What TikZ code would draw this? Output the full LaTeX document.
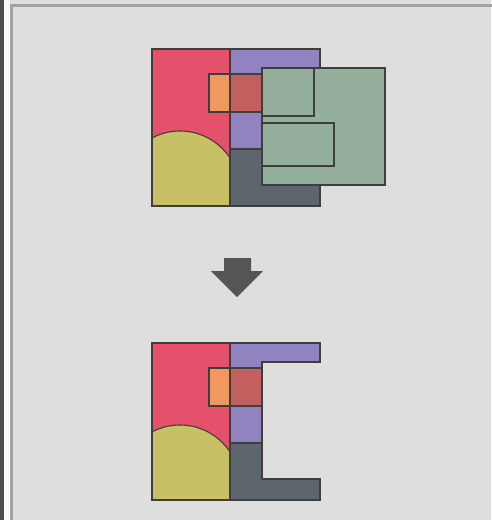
\documentclass[tikz,border=0pt]{standalone}
\definecolor{panelbg}{HTML}{DEDEDC}
\definecolor{framegray}{HTML}{A2A2A0}
\definecolor{stripegray}{HTML}{4E4E4E}
\definecolor{edgegray}{HTML}{3E3E3E}
\definecolor{redpart}{HTML}{E5506A}
\definecolor{purplepart}{HTML}{9183BF}
\definecolor{slatepart}{HTML}{5D656D}
\definecolor{yellowpart}{HTML}{C8C064}
\definecolor{greenpart}{HTML}{95AF9D}
\definecolor{orangepart}{HTML}{F19860}
\definecolor{overlappart}{HTML}{C1605F}
\definecolor{arrowgray}{HTML}{555555}
\begin{document}
\begin{tikzpicture}[x=1pt, y=-1pt,
    piece/.style={draw=edgegray, line width=1.1pt, line join=miter},
    cutbox/.style={draw=edgegray, line width=1.1pt, fill=greenpart}]
  \useasboundingbox (0,0) rectangle (491,520);
  % khung nen
  \fill[panelbg] (0,0) rectangle (491,520);
  \fill[stripegray] (0,0) rectangle (4,520);
  \fill[white!85!panelbg] (4,0) rectangle (10,520);
  \draw[framegray, line width=2.5pt] (11.5,530) -- (11.5,5.5) -- (500,5.5);

  % hinh tren: cac mien va vung cat
  \begin{scope}[shift={(152,49)}]
    \fill[redpart] (0,0) rectangle (78,157);
    \begin{scope}
      \clip (0,0) rectangle (78,157);
      \filldraw[yellowpart, draw=edgegray, line width=1.1pt] (28,142) circle (60);
    \end{scope}
    \draw[piece] (0,0) rectangle (78,157);
    \filldraw[piece, fill=purplepart] (78,0) rectangle (168,100);
    \filldraw[piece, fill=slatepart] (78,100) rectangle (168,157);
    \filldraw[piece, fill=orangepart] (57,25) rectangle (78,63);
    \filldraw[piece, fill=overlappart] (78,25) rectangle (110,63);
    % vung cat
    \filldraw[cutbox] (110,19) rectangle (233,136);
    \draw[piece] (110,19) rectangle (162,67);
    \draw[piece] (110,74) rectangle (182,117);
  \end{scope}

  % mui ten
  \fill[arrowgray] (224,258) -- (251,258) -- (251,271) -- (263,271)
    -- (237,297) -- (211,271) -- (224,271) -- cycle;

  % hinh duoi: sau khi cat
  \begin{scope}[shift={(152,343)}]
    \fill[redpart] (0,0) rectangle (78,157);
    \begin{scope}
      \clip (0,0) rectangle (78,157);
      \filldraw[yellowpart, draw=edgegray, line width=1.1pt] (28,142) circle (60);
    \end{scope}
    \draw[piece] (0,0) rectangle (78,157);
    \filldraw[piece, fill=purplepart] (78,0) -- (168,0) -- (168,19)
      -- (110,19) -- (110,100) -- (78,100) -- cycle;
    \filldraw[piece, fill=slatepart] (78,100) -- (110,100) -- (110,136)
      -- (168,136) -- (168,157) -- (78,157) -- cycle;
    \filldraw[piece, fill=orangepart] (57,25) rectangle (78,63);
    \filldraw[piece, fill=overlappart] (78,25) rectangle (110,63);
  \end{scope}
\end{tikzpicture}
\end{document}
